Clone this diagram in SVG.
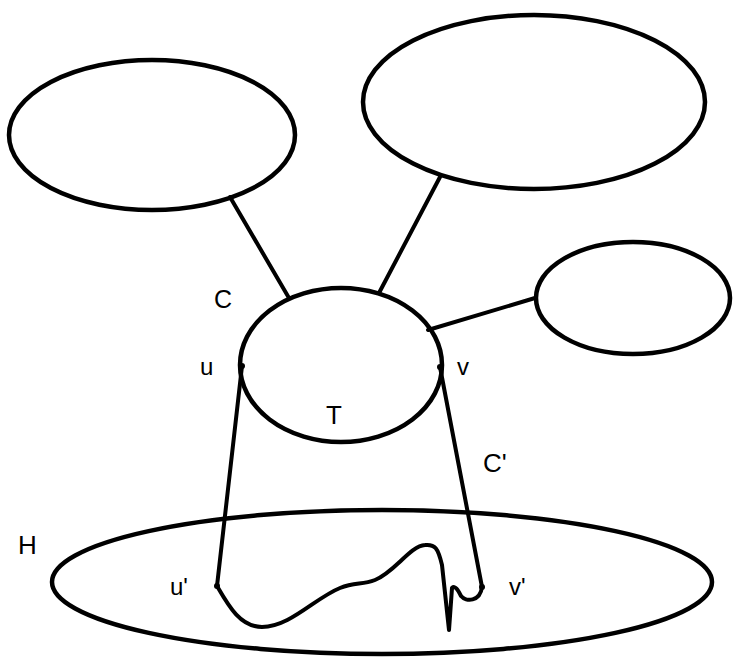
<svg xmlns="http://www.w3.org/2000/svg" width="733" height="662" viewBox="0 0 733 662">
<style>
.n{fill:#fff;stroke:#000;stroke-width:4.5}
.e{fill:none;stroke:#000;stroke-width:4;stroke-linecap:round;stroke-linejoin:round}
text{font-family:"Liberation Sans",Arial,sans-serif;fill:#000}
</style>
<rect width="733" height="662" fill="#fff"/>
<g id="H"><ellipse class="n" cx="382" cy="582" rx="330" ry="72"/></g>
<g id="A"><ellipse class="n" cx="152" cy="135" rx="143" ry="75"/></g>
<g id="B"><ellipse class="n" cx="534" cy="102" rx="171" ry="87"/></g>
<g id="D"><ellipse class="n" cx="633" cy="298" rx="97" ry="56"/></g>
<g id="C"><ellipse class="n" cx="341" cy="365" rx="101" ry="77"/></g>
<g id="connectors">
<line class="e" x1="230" y1="197" x2="289" y2="298"/>
<line class="e" x1="440" y1="177" x2="379" y2="293"/>
<line class="e" x1="535" y1="298" x2="428" y2="330"/>
<line class="e" x1="242" y1="366" x2="217" y2="586"/>
<line class="e" x1="440" y1="367" x2="482" y2="587"/>
<path class="e" d="M217,586 C228,605 240,627 262,627 C290,627 315,598 340,588 C355,582 362,585 375,580 C395,572 410,546 425,545 C435,544 438,548 442,565 L449,630 L452,588 C455,585 458,590 461,596 C466,602 480,602 482,587"/>
<circle cx="242" cy="366" r="3"/>
<circle cx="440" cy="367" r="3"/>
<circle cx="217" cy="586" r="3"/>
<circle cx="482" cy="587" r="3"/>
</g>
<g id="labels">
<text x="214" y="308" font-size="25">C</text>
<text x="200" y="375" font-size="24">u</text>
<text x="457" y="375" font-size="24">v</text>
<text x="326" y="424" font-size="26">T</text>
<text x="483" y="472" font-size="26">C'</text>
<text x="18" y="554" font-size="26">H</text>
<text x="170" y="595" font-size="24">u'</text>
<text x="509" y="595" font-size="24">v'</text>
</g>
</svg>
